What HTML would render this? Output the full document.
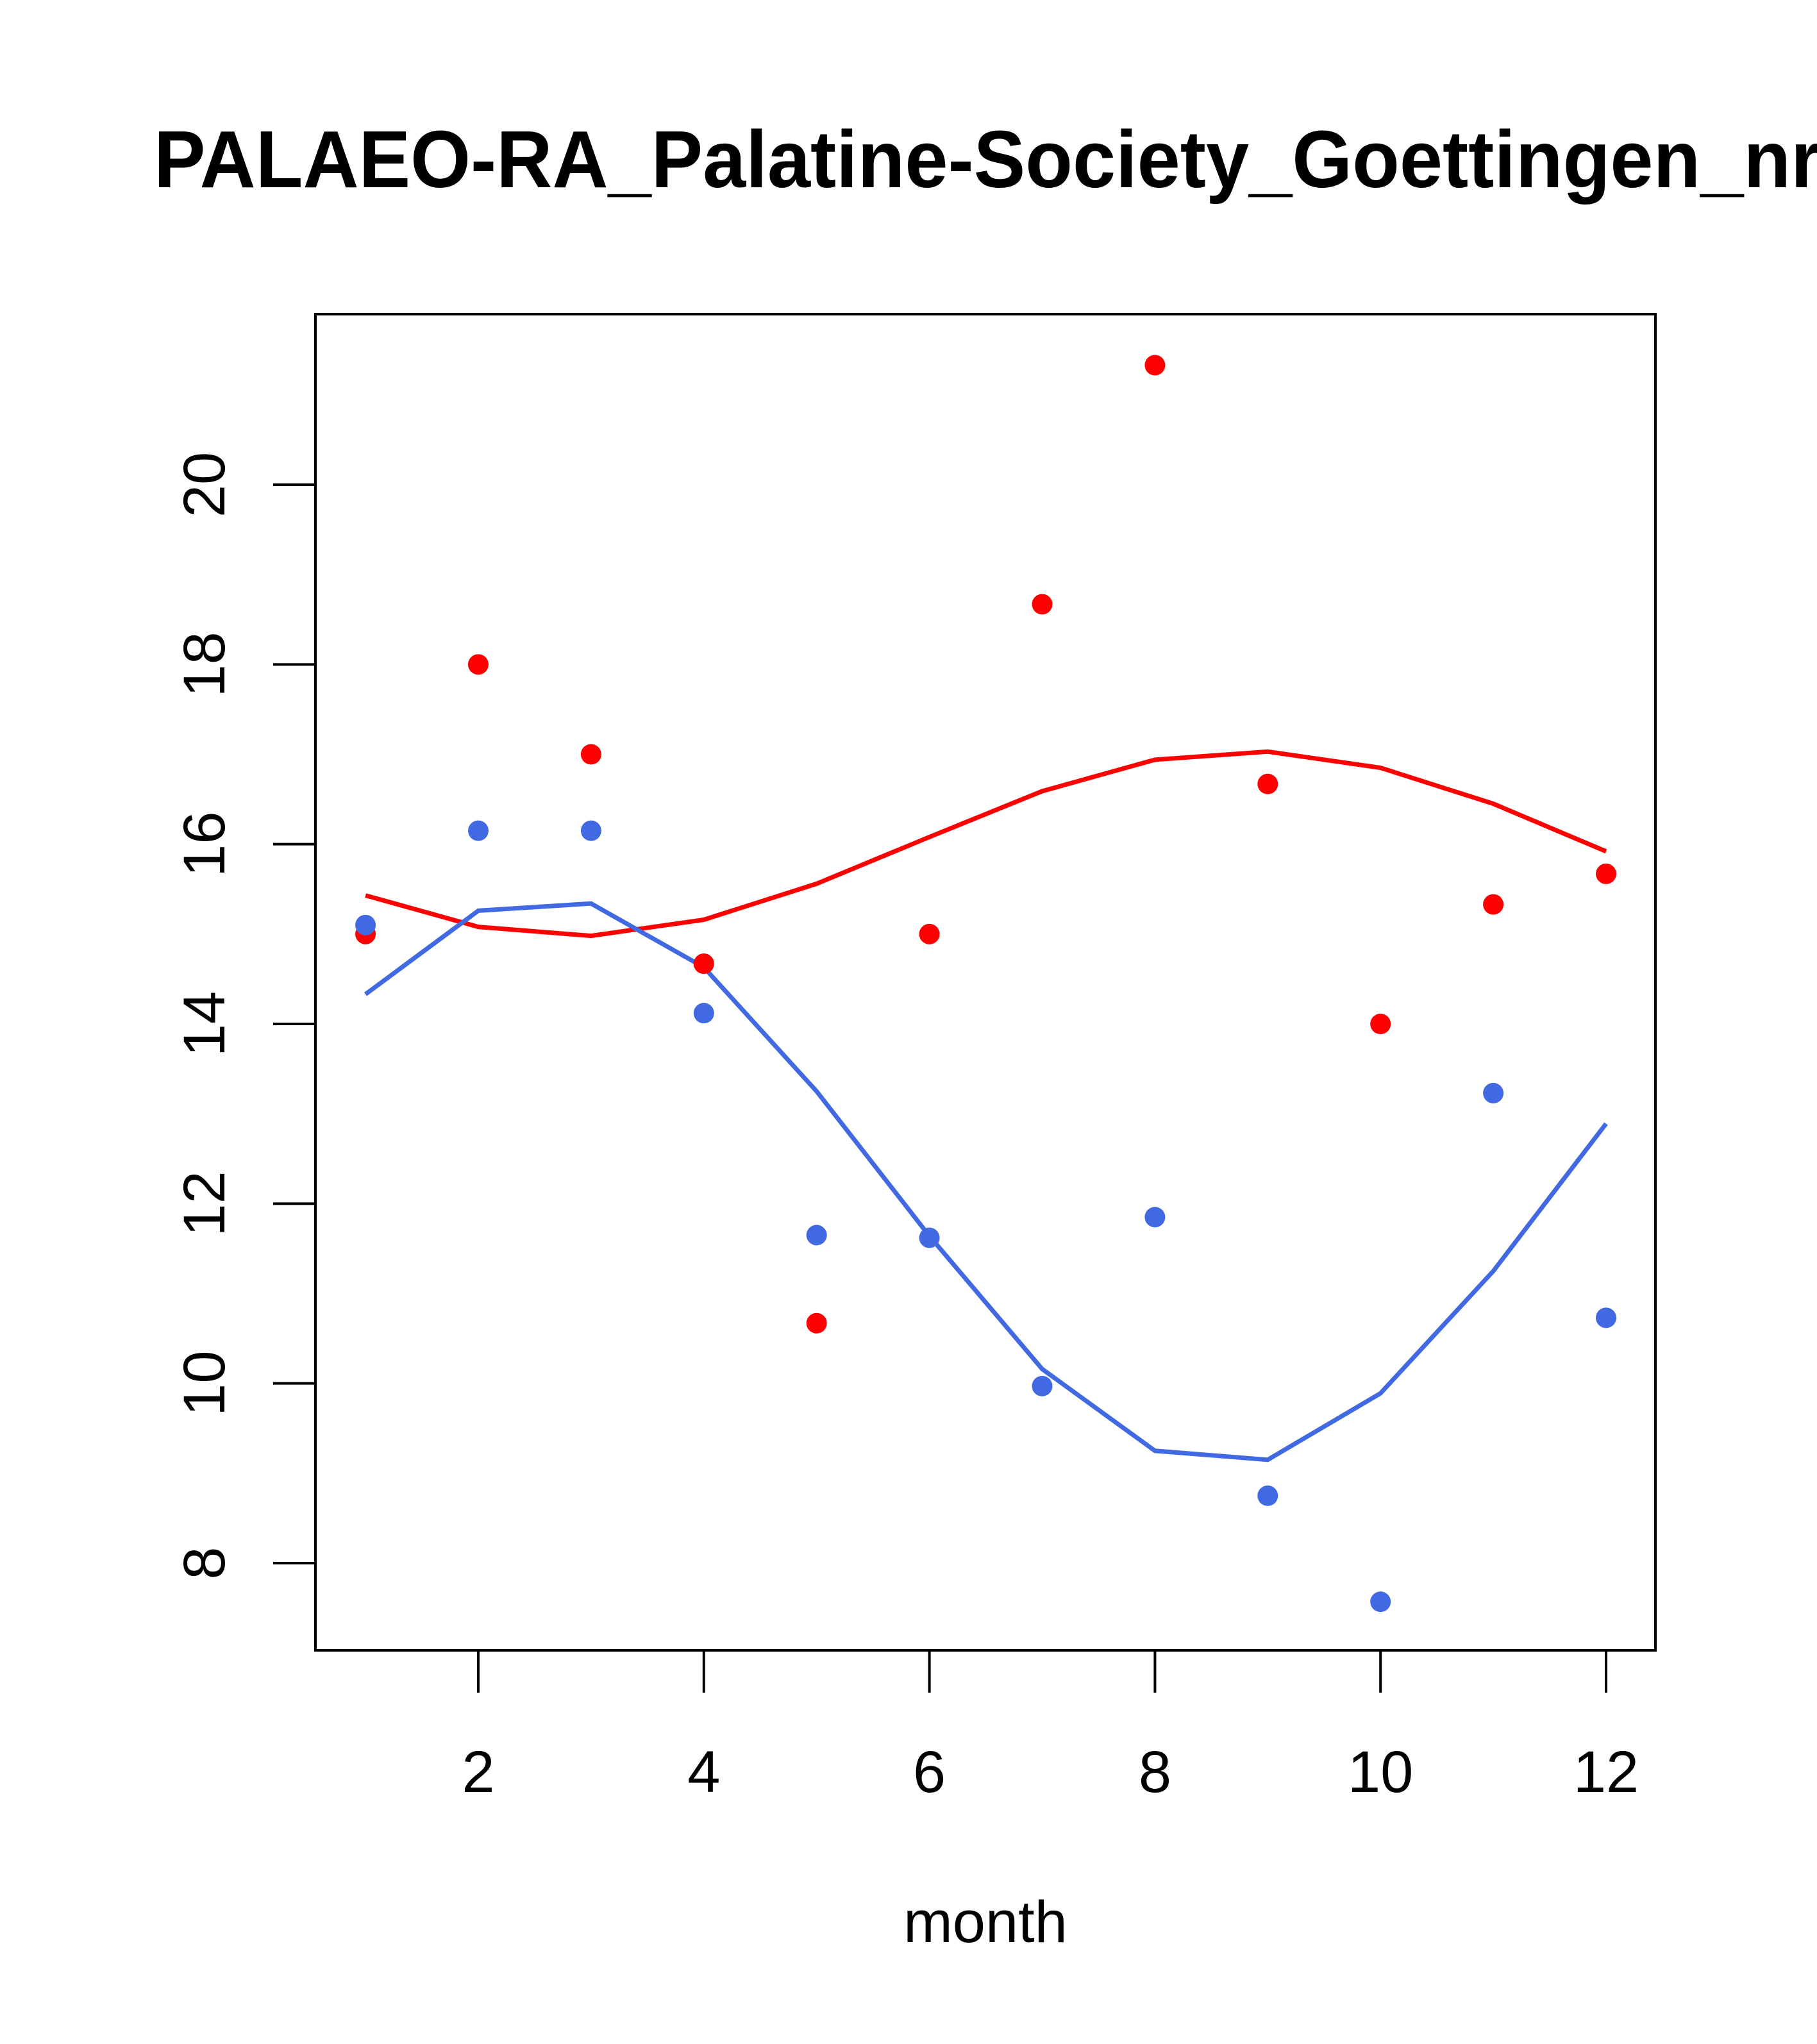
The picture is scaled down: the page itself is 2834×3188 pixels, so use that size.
<!DOCTYPE html>
<html><head><meta charset="utf-8"><style>
html,body{margin:0;padding:0;background:#fff;width:2834px;height:3188px;overflow:hidden}
svg{display:block;font-family:"Liberation Sans",sans-serif}
</style></head><body>
<svg id="chart" width="2834" height="3188" viewBox="0 0 2834 3188" xmlns="http://www.w3.org/2000/svg">
<text x="0" y="0" transform="translate(240,292) scale(0.958,1)" font-size="126" font-weight="bold" fill="#000">PALAEO-RA_Palatine-Society_Goettingen_nr</text>
<rect x="492" y="490" width="2090" height="2084" fill="none" stroke="#000" stroke-width="4"/>
<g id="xaxis"></g>
<g id="yaxis"></g>
<g id="lines"></g>
<g id="points"></g>
<text x="1537" y="3029" font-size="92" text-anchor="middle" fill="#000">month</text>
</svg>
<script>
const months = [1,2,3,4,5,6,7,8,9,10,11,12];
const redPoints = [15.0,18.0,17.0,14.67,10.67,15.0,18.67,21.33,16.67,14.0,15.33,15.67];
const bluePoints = [15.1,16.15,16.15,14.12,11.65,11.62,9.97,11.85,8.75,7.57,13.23,10.73];
const redLine = [15.43,15.08,14.98,15.16,15.56,16.08,16.59,16.94,17.03,16.85,16.45,15.92];
const blueLine = [14.33,15.26,15.34,14.63,13.25,11.64,10.16,9.25,9.15,9.89,11.25,12.89];
const xTicks = [2,4,6,8,10,12];
const yTicks = [8,10,12,14,16,18,20];

const NS = "http://www.w3.org/2000/svg";
function X(m){ return 746 + (m-2)*(2505-746)/10; }
function Y(v){ return 2438 - (v-8)*(2438-756)/12; }
function mk(tag, attrs, parent){
  const e = document.createElementNS(NS, tag);
  for (const k in attrs) e.setAttribute(k, attrs[k]);
  parent.appendChild(e);
  return e;
}
const xa = document.getElementById('xaxis');
const ya = document.getElementById('yaxis');
xTicks.forEach(t=>{
  const l = mk('line',{x1:X(t),x2:X(t),y1:2574,y2:2640,stroke:'#000','stroke-width':4},xa);
  
  
  const tx = mk('text',{x:X(t),y:2795,'font-size':92,'text-anchor':'middle',fill:'#000'},xa);
  tx.textContent = t;
  
  
});
yTicks.forEach(t=>{
  const l = mk('line',{x1:426,x2:492,y1:Y(t),y2:Y(t),stroke:'#000','stroke-width':4},ya);
  
  
  const tx = mk('text',{x:0,y:0,'font-size':92,'text-anchor':'middle',fill:'#000',transform:`translate(350,${Y(t)}) rotate(-90)`},ya);
  tx.textContent = t;
  
  
});
const lg = document.getElementById('lines');
const r = mk('polyline',{points:months.map((m,i)=>X(m)+','+Y(redLine[i])).join(' '),fill:'none',stroke:'#FF0000','stroke-width':7},lg);


const b = mk('polyline',{points:months.map((m,i)=>X(m)+','+Y(blueLine[i])).join(' '),fill:'none',stroke:'#4169E1','stroke-width':7},lg);


const pg = document.getElementById('points');
months.forEach((m,i)=>{
  const c = mk('circle',{cx:X(m),cy:Y(redPoints[i]),r:16,fill:'#FF0000'},pg);
  
  
});
months.forEach((m,i)=>{
  const c = mk('circle',{cx:X(m),cy:Y(bluePoints[i]),r:16,fill:'#4169E1'},pg);
  
  
});
</script>
</body></html>
